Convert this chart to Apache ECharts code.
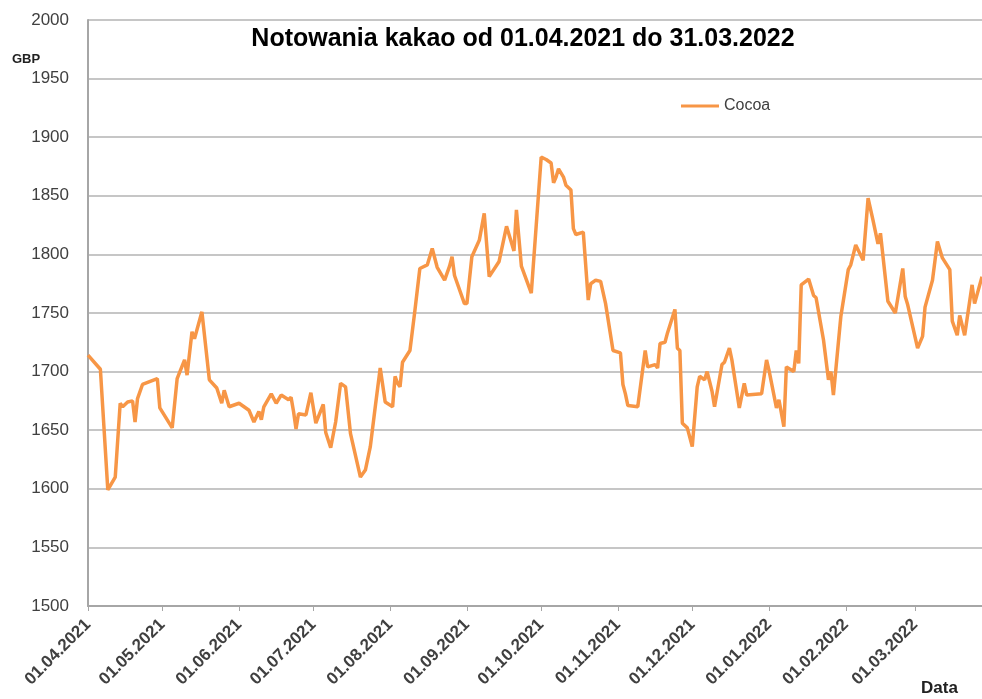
<!DOCTYPE html>
<html><head><meta charset="utf-8">
<script src="https://cdn.jsdelivr.net/npm/echarts@6/dist/echarts.min.js"></script>
<style>html,body{margin:0;padding:0;background:#fff}#c{width:982px;height:699px}</style>
</head><body><div id="c"></div>
<script>
const titleText = 'Notowania kakao od 01.04.2021 do 31.03.2022';
const seriesName = 'Cocoa';
const yAxisName = 'GBP';
const xAxisName = 'Data';
const dates = [
'2021-04-01','2021-04-06','2021-04-09','2021-04-12','2021-04-14','2021-04-15','2021-04-17','2021-04-19','2021-04-20','2021-04-21',
'2021-04-23','2021-04-29','2021-04-30','2021-05-05','2021-05-07','2021-05-10','2021-05-11','2021-05-13','2021-05-14','2021-05-17',
'2021-05-20','2021-05-23','2021-05-25','2021-05-26','2021-05-28','2021-06-01','2021-06-05','2021-06-07','2021-06-09','2021-06-10',
'2021-06-11','2021-06-14','2021-06-16','2021-06-18','2021-06-21','2021-06-22','2021-06-23','2021-06-24','2021-06-25','2021-06-28',
'2021-06-30','2021-07-02','2021-07-05','2021-07-06','2021-07-08','2021-07-10','2021-07-12','2021-07-14','2021-07-16','2021-07-20',
'2021-07-22','2021-07-24','2021-07-26','2021-07-28','2021-07-30','2021-08-02','2021-08-03','2021-08-04','2021-08-05','2021-08-06',
'2021-08-09','2021-08-11','2021-08-12','2021-08-13','2021-08-16','2021-08-18','2021-08-20','2021-08-23','2021-08-25','2021-08-26',
'2021-08-27','2021-08-31','2021-09-01','2021-09-03','2021-09-06','2021-09-08','2021-09-10','2021-09-14','2021-09-17','2021-09-20',
'2021-09-21','2021-09-23','2021-09-27','2021-10-01','2021-10-03','2021-10-05','2021-10-06','2021-10-07','2021-10-08','2021-10-10',
'2021-10-11','2021-10-13','2021-10-14','2021-10-15','2021-10-18','2021-10-20','2021-10-21','2021-10-23','2021-10-25','2021-10-27',
'2021-10-30','2021-11-02','2021-11-03','2021-11-04','2021-11-05','2021-11-09','2021-11-12','2021-11-13','2021-11-16','2021-11-17',
'2021-11-18','2021-11-20','2021-11-21','2021-11-24','2021-11-25','2021-11-26','2021-11-27','2021-11-29','2021-12-01','2021-12-03',
'2021-12-04','2021-12-06','2021-12-07','2021-12-09','2021-12-10','2021-12-13','2021-12-14','2021-12-16','2021-12-17','2021-12-20',
'2021-12-22','2021-12-23','2021-12-29','2021-12-31','2022-01-01','2022-01-04','2022-01-05','2022-01-07','2022-01-08','2022-01-11',
'2022-01-12','2022-01-13','2022-01-14','2022-01-17','2022-01-19','2022-01-20','2022-01-23','2022-01-25','2022-01-26','2022-01-27',
'2022-01-30','2022-02-02','2022-02-03','2022-02-05','2022-02-08','2022-02-10','2022-02-12','2022-02-14','2022-02-15','2022-02-18',
'2022-02-21','2022-02-24','2022-02-25','2022-02-26','2022-03-02','2022-03-04','2022-03-05','2022-03-08','2022-03-10','2022-03-12',
'2022-03-15','2022-03-16','2022-03-18','2022-03-19','2022-03-21','2022-03-24','2022-03-25','2022-03-28'
];
const prices = [
1714,1702,1599,1610,1673,1670,1674,1675,1657,1677,
1689,1694,1669,1652,1694,1710,1697,1734,1728,1751,
1693,1686,1673,1684,1670,1673,1667,1657,1666,1659,
1670,1681,1673,1680,1676,1678,1666,1651,1664,1663,
1682,1656,1672,1648,1635,1657,1690,1687,1647,1610,
1616,1636,1670,1703,1674,1670,1696,1690,1687,1708,
1718,1752,1770,1788,1791,1805,1789,1778,1790,1798,
1782,1758,1758,1798,1812,1835,1781,1794,1824,1803,
1838,1790,1767,1883,1881,1878,1861,1866,1873,1866,
1859,1855,1822,1817,1819,1761,1775,1778,1777,1758,
1718,1716,1689,1681,1671,1670,1718,1704,1706,1703,
1724,1725,1733,1753,1720,1718,1656,1652,1636,1687,
1696,1693,1700,1683,1670,1706,1708,1720,1710,1669,
1690,1680,1681,1710,1701,1669,1676,1653,1704,1700,
1718,1707,1774,1779,1765,1763,1727,1693,1700,1680,
1747,1787,1791,1808,1795,1848,1829,1809,1818,1760,
1750,1788,1764,1757,1720,1730,1755,1778,1811,1797,
1787,1743,1731,1748,1731,1774,1758,1781
];
const monthTicks = ['2021-04-01','2021-05-01','2021-06-01','2021-07-01','2021-08-01','2021-09-01',
  '2021-10-01','2021-11-01','2021-12-01','2022-01-01','2022-02-01','2022-03-01'];
const xMin = '2021-04-01', xMax = '2022-03-28';
const yMin = 1500, yMax = 2000, yStep = 50;

function ts(s){ const p = s.split('-').map(Number); return new Date(p[0], p[1]-1, p[2]).getTime(); }
function pad(n){ return (n<10?'0':'')+n; }
function fmt(v){ const d = new Date(v); return pad(d.getDate())+'.'+pad(d.getMonth()+1)+'.'+d.getFullYear(); }

const chart = echarts.init(document.getElementById('c'), null, {renderer:'canvas'});
const FONT = 'Liberation Sans';
const tickVals = monthTicks.map(ts);
chart.setOption({
  animation: false,
  backgroundColor: '#fff',
  textStyle: {fontFamily: FONT},
  title: {
    text: titleText, left: 523, top: 27, textAlign: 'center', padding: 0,
    textStyle: {fontFamily: FONT, fontSize: 25, fontWeight: 'bold', color: '#000'}
  },
  legend: {
    left: 676, top: 93, itemWidth: 38, itemHeight: 3, itemGap: 8,
    data: [{name: seriesName, icon: 'rect'}],
    textStyle: {fontFamily: FONT, fontSize: 16, color: '#404040'}
  },
  grid: {left: 88, right: 0, top: 20, bottom: 93, containLabel: false},
  xAxis: {
    type: 'value', min: ts(xMin), max: ts(xMax),
    axisLine: {show: true, lineStyle: {color: '#a6a6a6', width: 2}},
    axisTick: {show: true, length: 5, lineStyle: {color: '#a6a6a6', width: 1}, customValues: tickVals},
    axisLabel: {rotate: 45, fontSize: 17, fontWeight: 'bold', color: '#404040', margin: 16, customValues: tickVals, formatter: fmt},
    splitLine: {show: false}
  },
  yAxis: {
    type: 'value', min: yMin, max: yMax, interval: yStep,
    axisLine: {show: true, lineStyle: {color: '#a6a6a6', width: 2}},
    axisTick: {show: false},
    axisLabel: {fontSize: 17, color: '#404040', margin: 19, formatter: v => String(v)},
    splitLine: {show: true, lineStyle: {color: '#b3b3b3', width: 1.5}}
  },
  graphic: [
    {type: 'text', left: 12, top: 53, style: {text: yAxisName, fontFamily: FONT, fontSize: 13, fontWeight: 'bold', fill: '#222'}},
    {type: 'text', left: 921, top: 680, style: {text: xAxisName, fontFamily: FONT, fontSize: 17, fontWeight: 'bold', fill: '#222'}}
  ],
  series: [{
    name: seriesName, type: 'line', symbol: 'none', showSymbol: false,
    lineStyle: {color: '#F79646', width: 3.5}, itemStyle: {color: '#F79646'},
    data: dates.map((d, i) => [ts(d), prices[i]])
  }]
});
</script></body></html>
